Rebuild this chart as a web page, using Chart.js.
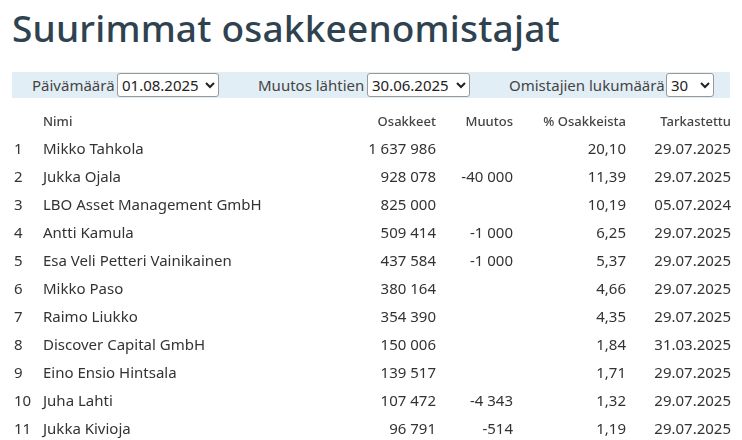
<!DOCTYPE html>
<html lang="fi">
<head>
<meta charset="UTF-8">
<title>Suurimmat osakkeenomistajat</title>
<style>
body{margin:0;width:742px;height:440px;overflow:hidden;background:#fff;font-family:"Noto Sans",sans-serif;color:#333}
h1{position:absolute;left:12px;top:2px;margin:0;font-size:37px;font-weight:500;color:#2f4250;letter-spacing:0.2px}
.bar{position:absolute;left:12px;top:72px;width:718px;height:26px;background:#e2eef5}
.bar span{position:absolute;top:3px;font-size:15px;color:#444}
.bar select{position:absolute;top:1px;height:24px;font-size:15px;font-family:"Noto Sans",sans-serif;border:1px solid #999;border-radius:3px;background:#fff;color:#222}
#wrap{position:absolute;left:0;top:108px;width:742px;height:336px}
</style>
</head>
<body>
<h1>Suurimmat osakkeenomistajat</h1>
<div class="bar">
<span style="left:20px">Päivämäärä</span>
<select style="left:105px;width:102px"><option>01.08.2025</option></select>
<span style="left:246px">Muutos lähtien</span>
<select style="left:355px;width:103px"><option>30.06.2025</option></select>
<span style="left:497px">Omistajien lukumäärä</span>
<select style="left:654px;width:48px"><option>30</option></select>
</div>
<div id="wrap"><canvas id="myChart"></canvas></div>
<script src="https://cdn.jsdelivr.net/npm/chart.js"></script>
<script>
var rows = [
    ['1', 'Mikko Tahkola', '1 637 986', '', '20,10', '29.07.2025'],
    ['2', 'Jukka Ojala', '928 078', '-40 000', '11,39', '29.07.2025'],
    ['3', 'LBO Asset Management GmbH', '825 000', '', '10,19', '05.07.2024'],
    ['4', 'Antti Kamula', '509 414', '-1 000', '6,25', '29.07.2025'],
    ['5', 'Esa Veli Petteri Vainikainen', '437 584', '-1 000', '5,37', '29.07.2025'],
    ['6', 'Mikko Paso', '380 164', '', '4,66', '29.07.2025'],
    ['7', 'Raimo Liukko', '354 390', '', '4,35', '29.07.2025'],
    ['8', 'Discover Capital GmbH', '150 006', '', '1,84', '31.03.2025'],
    ['9', 'Eino Ensio Hintsala', '139 517', '', '1,71', '29.07.2025'],
    ['10', 'Juha Lahti', '107 472', '-4 343', '1,32', '29.07.2025'],
    ['11', 'Jukka Kivioja', '96 791', '-514', '1,19', '29.07.2025']
];
var header = ['', 'Nimi', 'Osakkeet', 'Muutos', '% Osakkeista', 'Tarkastettu'];
// column x positions and alignment
var cols = [[14, 'left'], [43, 'left'], [436, 'right'], [513, 'right'], [626, 'right'], [731, 'right']];

var tablePlugin = {
    id: 'table',
    afterDraw: function(chart) {
        var ctx = chart.ctx, y = chart.scales.y;
        ctx.save();
        ctx.textBaseline = 'middle';
        ctx.fillStyle = '#444';
        ctx.font = '500 13px "Noto Sans"';
        header.forEach(function(t, c) {
            ctx.textAlign = cols[c][1];
            ctx.fillText(t, cols[c][0], y.getPixelForValue(0));
        });
        ctx.fillStyle = '#333';
        ctx.font = '15px "Noto Sans"';
        rows.forEach(function(r, i) {
            r.forEach(function(t, c) {
                ctx.textAlign = cols[c][1];
                ctx.fillText(t, cols[c][0], y.getPixelForValue(i + 1));
            });
        });
        ctx.restore();
    }
};

var ctx = document.getElementById('myChart').getContext('2d');
var chart = new Chart(ctx, {
    type: 'bar',
    data: {
        labels: ['header'].concat(rows.map(function(r) { return r[0]; })),
        datasets: [{ data: rows.map(function() { return null; }).concat([null]) }]
    },
    options: {
        indexAxis: 'y',
        responsive: true,
        maintainAspectRatio: false,
        animation: false,
        layout: { padding: 0 },
        plugins: { legend: { display: false }, tooltip: { enabled: false } },
        scales: {
            x: { display: false },
            y: { display: false, offset: true }
        }
    },
    plugins: [tablePlugin]
});
</script>
</body>
</html>
